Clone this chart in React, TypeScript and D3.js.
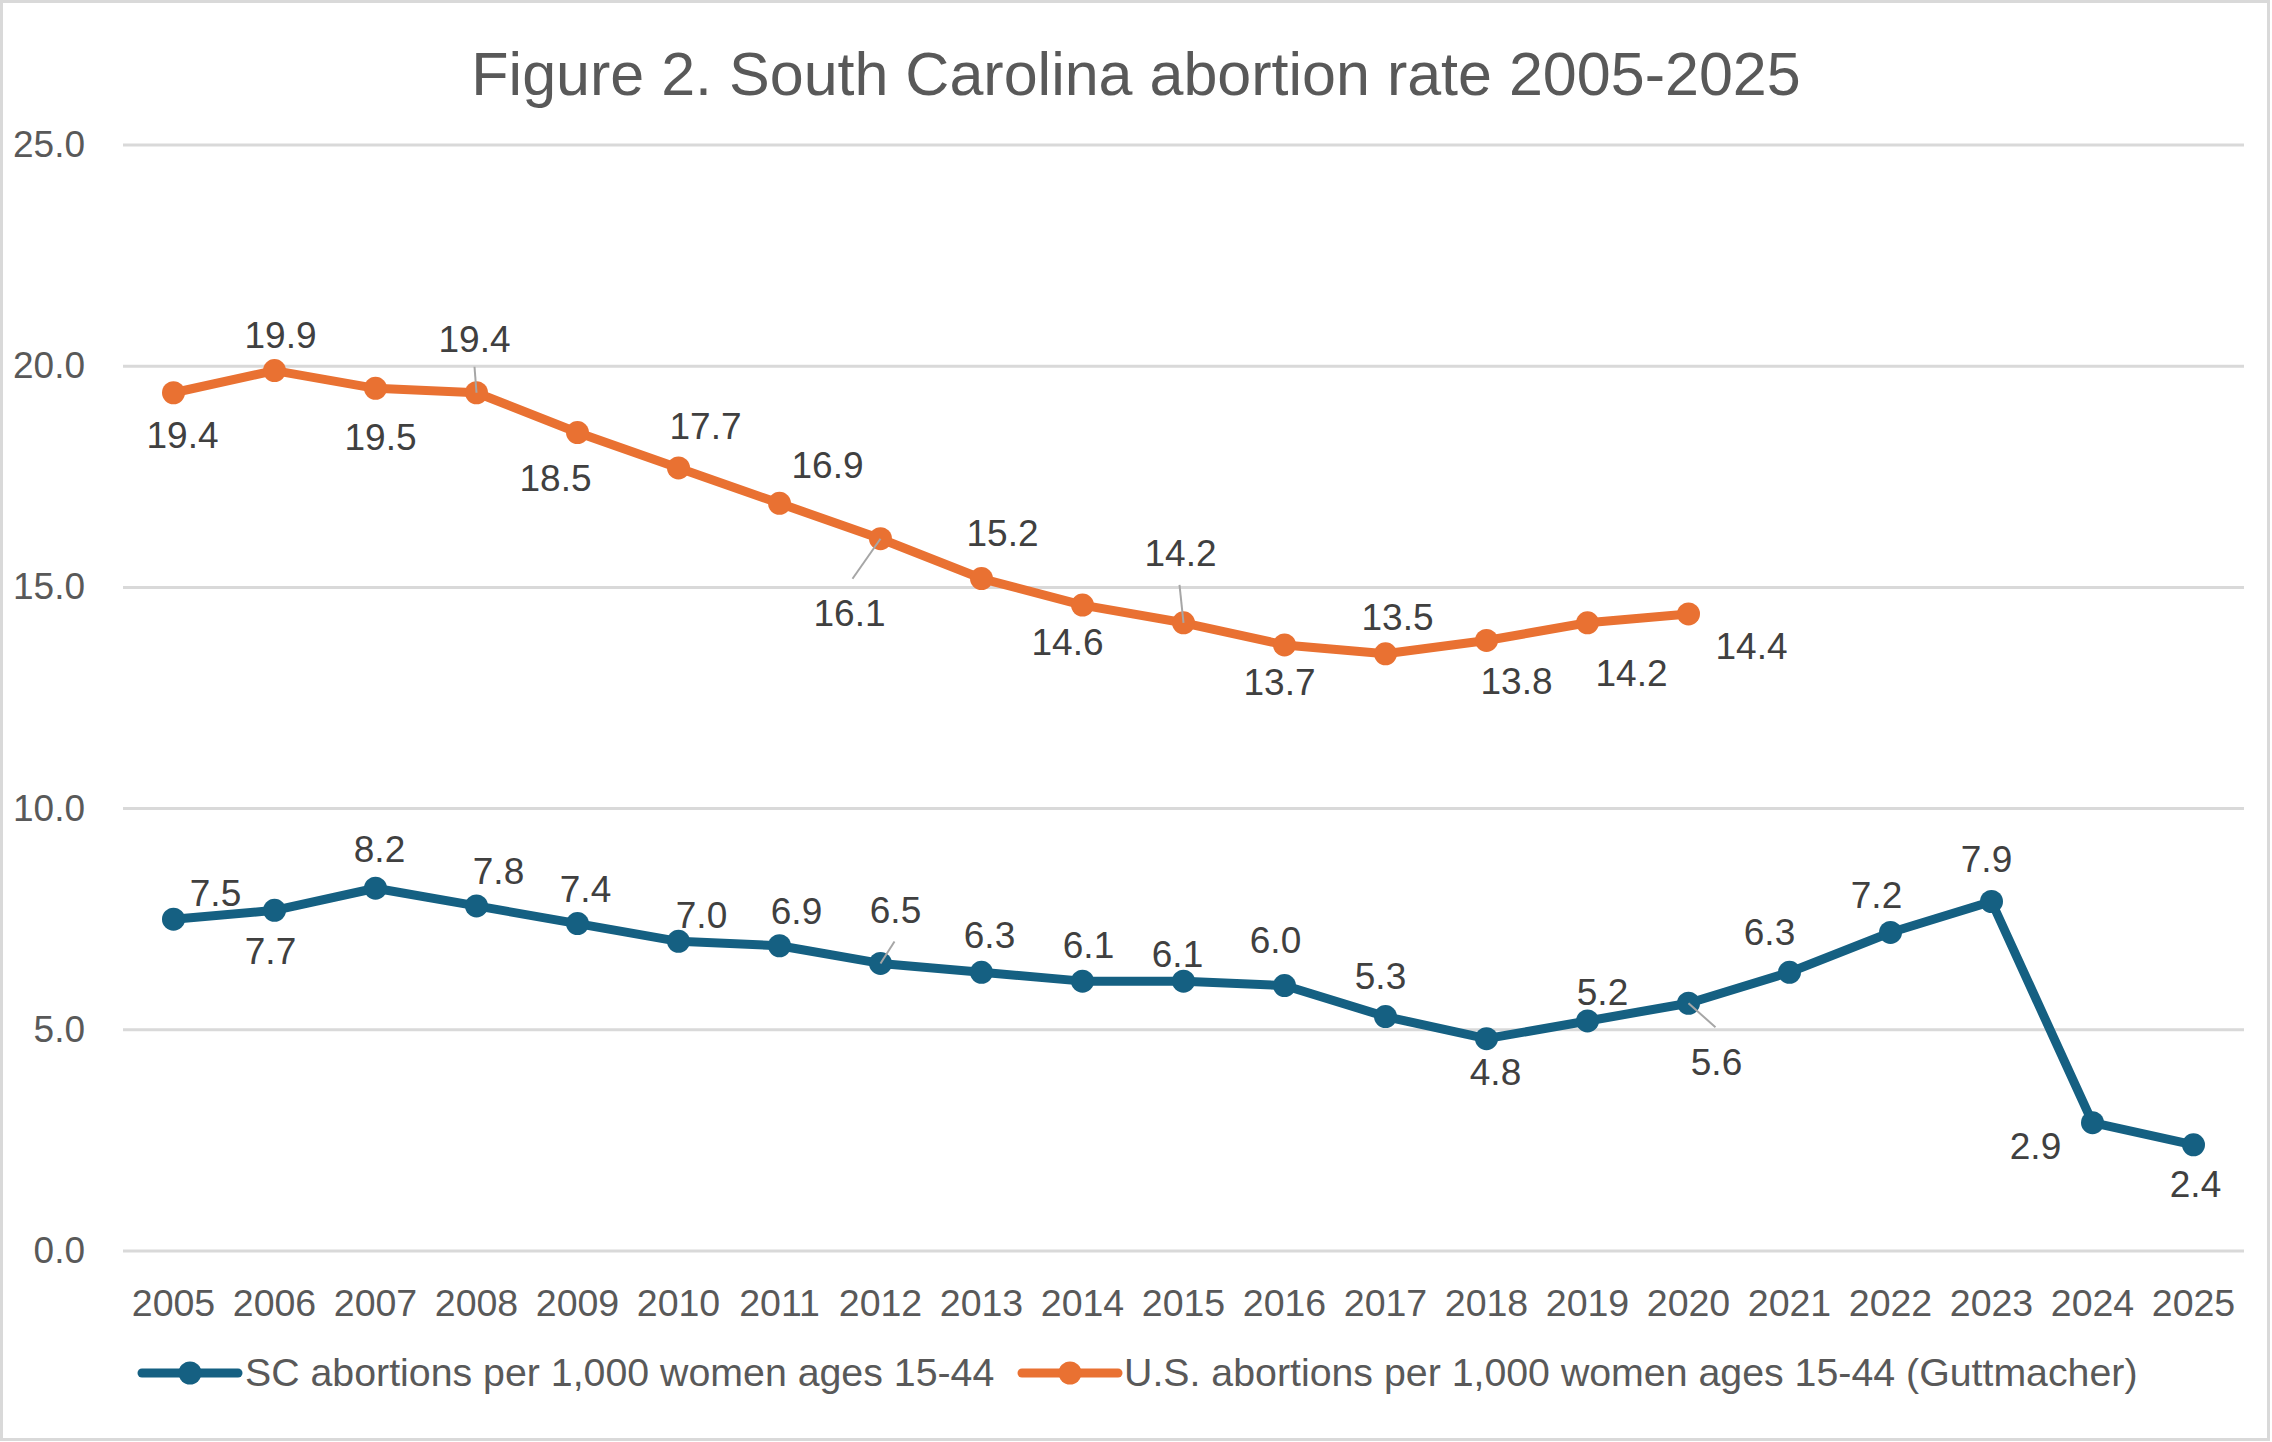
import React from "react";
import * as d3 from "d3";

const title = "Figure 2. South Carolina abortion rate 2005-2025";

const years = [
  "2005", "2006", "2007", "2008", "2009", "2010", "2011", "2012", "2013", "2014",
  "2015", "2016", "2017", "2018", "2019", "2020", "2021", "2022", "2023", "2024", "2025",
];

// SC abortions per 1,000 women ages 15-44
const scRate = [7.5, 7.7, 8.2, 7.8, 7.4, 7.0, 6.9, 6.5, 6.3, 6.1, 6.1, 6.0, 5.3, 4.8, 5.2, 5.6, 6.3, 7.2, 7.9, 2.9, 2.4];

// U.S. abortions per 1,000 women ages 15-44 (Guttmacher), 2005-2020 only
const usRate = [19.4, 19.9, 19.5, 19.4, 18.5, 17.7, 16.9, 16.1, 15.2, 14.6, 14.2, 13.7, 13.5, 13.8, 14.2, 14.4];

const yTicks = [0, 5, 10, 15, 20, 25];

const seriesNames = [
  "SC abortions per 1,000 women ages 15-44",
  "U.S. abortions per 1,000 women ages 15-44 (Guttmacher)",
];

// label placement relative to the marker (pixels), as placed in the original
const scLabelPos = [
  [42, -26], [-4, 41], [4, -39], [22, -35], [8, -35], [23, -26], [17, -35], [15, -53],
  [8, -37], [6, -36], [-6, -27], [-9, -46], [-5, -41], [9, 33], [15, -29], [28, 59],
  [-20, -40], [-14, -37], [-5, -43], [-57, 23], [2, 39],
];
const usLabelPos = [
  [9, 42], [6, -36], [5, 49], [-2, -54], [-22, 45], [27, -42], [48, -38], [-31, 74],
  [21, -46], [-15, 37], [-3, -70], [-5, 37], [12, -37], [30, 41], [44, 50], [63, 32],
];
// leader lines: [series, index, end dx, end dy]
const leaders = [
  ["us", 3, -2, -26],
  ["us", 7, -28, 40],
  ["us", 10, -4, -38],
  ["sc", 7, 14, -22],
  ["sc", 15, 27, 24],
];

const W = 2272;
const H = 1442;
const BLUE = "#156082";
const ORANGE = "#E97132";
const FONT = "'Liberation Sans', Arial, sans-serif";

export default function App() {
  const x = d3.scalePoint<string>().domain(years).range([123, 2244]).padding(0.5);
  const y = d3.scaleLinear().domain([0, 25]).range([1251, 145]);

  const line = d3
    .line<number>()
    .x((_, i) => x(years[i]) as number)
    .y((d) => y(d));

  const series = [
    { key: "sc", values: scRate, color: BLUE, pos: scLabelPos },
    { key: "us", values: usRate, color: ORANGE, pos: usLabelPos },
  ];

  return (
    <svg width={W} height={H} style={{ position: "absolute", left: 0, top: 0, background: "#fff" }} fontFamily={FONT}>
      <rect x={1.5} y={1.5} width={W - 5} height={H - 4} fill="#fff" stroke="#d9d9d9" strokeWidth={3} />

      <text x={1136} y={95} textAnchor="middle" fontSize={61} fill="#595959">
        {title}
      </text>

      {/* gridlines + y tick labels */}
      {yTicks.map((t) => (
        <g key={t}>
          <line x1={123} x2={2244} y1={y(t)} y2={y(t)} stroke="#d9d9d9" strokeWidth={3} />
          <text x={85} y={y(t) + 12} textAnchor="end" fontSize={37} fill="#595959">
            {t.toFixed(1)}
          </text>
        </g>
      ))}

      {/* x tick labels */}
      {years.map((yr) => (
        <text key={yr} x={x(yr)} y={1316} textAnchor="middle" fontSize={37.5} fill="#595959">
          {yr}
        </text>
      ))}

      {series.map((s) => (
        <g key={s.key}>
          <path d={line(s.values) || ""} fill="none" stroke={s.color} strokeWidth={9} strokeLinejoin="round" strokeLinecap="round" />
          {s.values.map((v, i) => (
            <circle key={i} cx={x(years[i])} cy={y(v)} r={11.5} fill={s.color} />
          ))}
        </g>
      ))}

      {leaders.map(([k, i, dx, dy]) => {
        const vals = k === "sc" ? scRate : usRate;
        const px = x(years[i as number]) as number;
        const py = y(vals[i as number]);
        return (
          <line key={`${k}${i}`} x1={px} y1={py} x2={px + (dx as number)} y2={py + (dy as number)} stroke="#a6a6a6" strokeWidth={2} />
        );
      })}

      {series.map((s) =>
        s.values.map((v, i) => (
          <text
            key={`${s.key}-l${i}`}
            x={(x(years[i]) as number) + s.pos[i][0]}
            y={y(v) + s.pos[i][1] + 13}
            textAnchor="middle"
            fontSize={37}
            fill="#404040"
          >
            {v.toFixed(1)}
          </text>
        ))
      )}

      {/* legend */}
      {[
        { lx: 142, tx: 245, color: BLUE, name: seriesNames[0] },
        { lx: 1022, tx: 1124, color: ORANGE, name: seriesNames[1] },
      ].map((l) => (
        <g key={l.name}>
          <line x1={l.lx} x2={l.lx + 96} y1={1373} y2={1373} stroke={l.color} strokeWidth={9} strokeLinecap="round" />
          <circle cx={l.lx + 48} cy={1373} r={11.5} fill={l.color} />
          <text x={l.tx} y={1386} fontSize={39.3} fill="#595959">
            {l.name}
          </text>
        </g>
      ))}
    </svg>
  );
}
